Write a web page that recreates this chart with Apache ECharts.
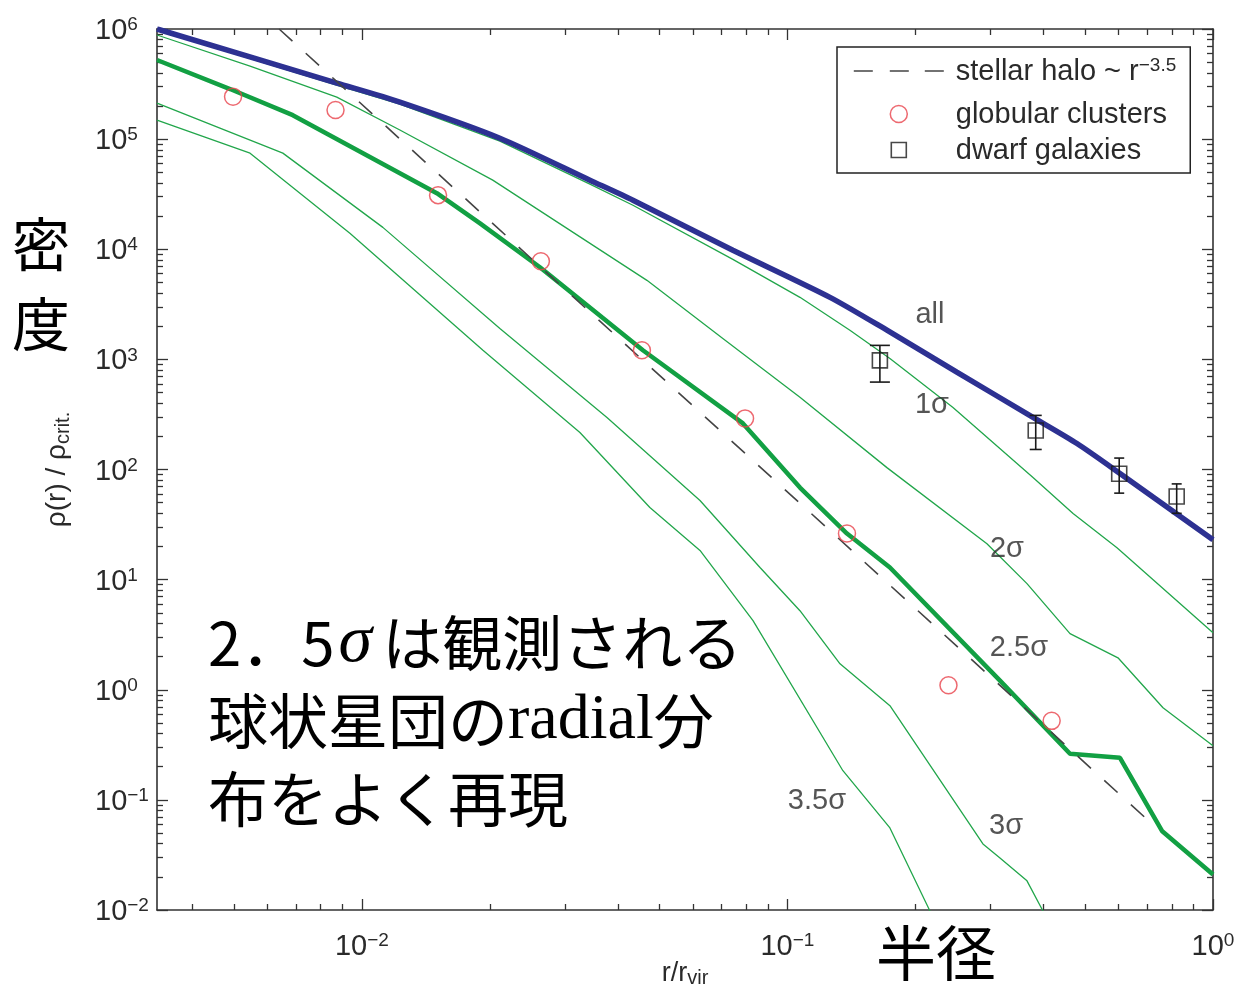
<!DOCTYPE html>
<html><head><meta charset="utf-8">
<script src="https://cdn.jsdelivr.net/npm/echarts@6/dist/echarts.min.js"></script>
<style>html,body{margin:0;padding:0;background:#fff}#c{width:1234px;height:993px}</style>
</head><body><div id="c"></div>
<script>
// ---------------- data (r / r_vir , rho / rho_crit) ----------------
const curveAll = [[0.0033,1.0e6],[0.00873,3.23e5],[0.01228,2.17e5],[0.0211,1.02e5],[0.03434,4.24e4],[0.04334,2.79e4],[0.07443,9.8e3],[0.1259,3.66e3],[0.1713,1.84e3],[0.25,767],[0.3776,297],[0.479,172],[0.6045,92],[1.0,23]];
const curve1s  = [[0.0033,9.8e5],[0.00873,3.1e5],[0.01228,2.08e5],[0.0211,9.6e4],[0.03434,3.9e4],[0.04334,2.51e4],[0.07443,8.1e3],[0.107,3.66e3],[0.1402,1.84e3],[0.1741,1.02e3],[0.2449,366],[0.3776,84.5],[0.469,39.8],[0.5948,19.5],[1.0,3.3]];
const curve2s  = [[0.0033,8.82e5],[0.00546,4.6e5],[0.00873,2.41e5],[0.01228,1.21e5],[0.0203,4.24e4],[0.04675,5.22e3],[0.0705,1.55e3],[0.107,452],[0.1713,104],[0.2943,21.2],[0.3655,9.2],[0.4613,3.23],[0.598,1.95],[0.763,0.686],[1.0,0.31]];
const curve25s = [[0.0033,5.23e5],[0.0049,2.85e5],[0.00688,1.65e5],[0.015,3.23e4],[0.01895,1.72e4],[0.0262,6.86e3],[0.04574,1.21e3],[0.0786,262],[0.107,68.6],[0.138,26.2],[0.1741,12.9],[0.3158,1.21],[0.4613,0.262],[0.6045,0.241],[0.7588,0.0522],[1.0,0.021]];
const curve3s  = [[0.0033,2.12e5],[0.00652,7.46e4],[0.0112,1.58e4],[0.0211,1.91e3],[0.03766,297],[0.0623,52.3],[0.0862,12.9],[0.107,5.22],[0.1329,1.72],[0.1741,0.716],[0.288,0.0398],[0.3158,0.0297],[0.3655,0.0184],[0.3985,0.0098],[0.414,0.0072]];
const curve35s = [[0.0033,1.49e5],[0.00546,7.46e4],[0.00937,1.40e4],[0.01925,1.21e3],[0.03253,217],[0.0475,45.2],[0.0623,18.4],[0.083,4.24],[0.135,0.184],[0.1741,0.0556],[0.2162,0.0098],[0.2221,0.0079]];
const stellarHalo = [[0.00639,1.0e6],[0.719,0.0605]];
const globularClusters = [[0.00498,2.43e5],[0.00867,1.84e5],[0.0151,3.10e4],[0.02634,7.78e3],[0.0455,1.21e3],[0.0795,291],[0.138,26.2],[0.239,1.10],[0.4177,0.522]];
// [r, rho, rhoLow, rhoHigh]
const dwarfGalaxies = [[0.1649,980,622,1340],[0.3832,226,152,310],[0.602,91.4,61,127],[0.8216,56.9,40,74]];
const curveLabelText = ['all','1σ','2σ','2.5σ','3σ','3.5σ'];
const curveLabelR    = [0.2162,0.2186,0.328,0.35,0.3264,0.1173];
const curveLabelRho  = [2510,382,19.1,2.41,0.058,0.098];
const majorX = [0.01,0.1,1];
const majorY = [1e-2,1e-1,1,1e1,1e2,1e3,1e4,1e5,1e6];
const decadesX = [0.001,0.01,0.1];
const decadesY = [1e-2,1e-1,1,1e1,1e2,1e3,1e4,1e5];
const X_MIN = 0.0033, X_MAX = 1, Y_MIN = 0.01, Y_MAX = 1e6;

// ---------------- styles ----------------
const SANS = '"Liberation Sans", Arial, Helvetica, sans-serif';
const JP = '"Noto Sans CJK JP", sans-serif';
const AX = '#333';
const TXT = '#2a2a2a';
const BLUE = '#2D3192';
const GREEN = '#12A043';
const GREEN_THIN = '#22A64B';
const RED = '#E8444C';
const DASH = '#444';
const errCapPx = [10, 6, 5, 5];

function minorTicks(decades, lo, hi) {
  const out = [];
  decades.forEach(d => { for (let m = 2; m <= 9; m++) { const v = +(d * m).toPrecision(6); if (v > lo && v < hi) out.push(v); } });
  return out;
}
const minorX = minorTicks(decadesX, X_MIN, X_MAX);
const minorY = minorTicks(decadesY, Y_MIN, Y_MAX);

function powLabel(v) {
  const e = Math.round(Math.log10(v));
  const s = e < 0 ? '\u2212' + (-e) : String(e);
  return '{b|10}{s|' + s + '}';
}
const powRich = {
  b: { fontFamily: SANS, fontSize: 29, lineHeight: 30, verticalAlign: 'bottom', color: TXT },
  s: { fontFamily: SANS, fontSize: 19, lineHeight: 20, verticalAlign: 'top', padding: [0, 0, 18, 0], color: TXT }
};

function logAxis(min, max, pos, ticks, len, showLine, label, extra) {
  return Object.assign({
    type: 'log', logBase: 10, min: min, max: max, position: pos,
    splitLine: { show: false },
    axisLine: { show: showLine, onZero: false, lineStyle: { color: AX, width: 1.6 } },
    axisTick: { show: true, inside: true, length: len, customValues: ticks, lineStyle: { color: AX, width: 1.3 } },
    axisLabel: label || { show: false },
    axisPointer: { show: false }
  }, extra || {});
}

const xAxes = [
  logAxis(X_MIN, X_MAX, 'bottom', majorX, 11, true,
    { show: true, customValues: majorX, formatter: powLabel, margin: 21, rich: powRich },
    { name: '{a|r/r}{c|vir}', nameLocation: 'middle', nameGap: 50, nameMoveOverlap: false,
      nameTextStyle: { rich: {
        a: { fontFamily: SANS, fontSize: 27, lineHeight: 28, verticalAlign: 'top', color: TXT },
        c: { fontFamily: SANS, fontSize: 20, lineHeight: 20, verticalAlign: 'bottom', padding: [16, 0, 0, 0], color: TXT } } } }),
  logAxis(X_MIN, X_MAX, 'bottom', minorX, 6, false),
  logAxis(X_MIN, X_MAX, 'top', majorX, 11, true),
  logAxis(X_MIN, X_MAX, 'top', minorX, 6, false)
];
const yAxes = [
  logAxis(Y_MIN, Y_MAX, 'left', majorY, 11, true,
    { show: true, customValues: majorY, formatter: powLabel, margin: 62, align: 'left', padding: [3, 0, 0, 0], rich: powRich },
    { name: '{a|\u03C1(r) / \u03C1}{c|crit.}', nameLocation: 'middle', nameRotate: 90, nameGap: 84, nameMoveOverlap: false,
      nameTextStyle: { rich: {
        a: { fontFamily: SANS, fontSize: 28, lineHeight: 30, verticalAlign: 'top', color: TXT },
        c: { fontFamily: SANS, fontSize: 20, lineHeight: 20, verticalAlign: 'bottom', padding: [15, 0, 0, 0], color: TXT } } } }),
  logAxis(Y_MIN, Y_MAX, 'left', minorY, 6, false),
  logAxis(Y_MIN, Y_MAX, 'right', majorY, 11, true),
  logAxis(Y_MIN, Y_MAX, 'right', minorY, 6, false)
];

function lineSeries(name, data, color, width, z, extra) {
  return Object.assign({
    type: 'line', name: name, data: data, xAxisIndex: 0, yAxisIndex: 0,
    symbol: 'none', showSymbol: false, smooth: false, silent: true, z: z, clip: true,
    itemStyle: { color: color },
    lineStyle: { color: color, width: width }, emphasis: { disabled: true }
  }, extra || {});
}

const option = {
  animation: false,
  backgroundColor: '#fff',
  grid: { left: 157, right: 21, top: 29, bottom: 83, containLabel: false, outerBoundsMode: 'none' },
  xAxis: xAxes,
  yAxis: yAxes,
  legend: {
    left: 837, top: 47, orient: 'vertical',
    padding: [9, 14, 8, 16], itemGap: 7, itemWidth: 90, itemHeight: 17,
    borderColor: '#222', borderWidth: 1.5, backgroundColor: '#fff',
    selectedMode: false, symbolKeepAspect: true,
    data: [
      { name: 'stellar halo', icon: 'path://M0,0M90,17M0,8.5H19M36,8.5H55M71,8.5H90',
        itemStyle: { color: 'transparent', borderColor: DASH, borderWidth: 1.6 } },
      { name: 'globular clusters', itemStyle: { color: 'transparent', borderColor: RED, borderWidth: 1.5 } },
      { name: 'dwarf galaxies', icon: 'path://M0,0M90,17M37.5,1H52.5V16H37.5Z',
        itemStyle: { color: 'transparent', borderColor: '#1a1a1a', borderWidth: 1.6 } }
    ],
    formatter: function (n) { return n === 'stellar halo' ? '{t|stellar halo ~ r}{s|\u22123.5}' : '{t|' + n + '}'; },
    textStyle: { fontFamily: SANS, fontSize: 29, color: TXT, padding: [0, 0, 0, 7],
      rich: {
        t: { fontFamily: SANS, fontSize: 29, lineHeight: 30, verticalAlign: 'bottom', color: TXT },
        s: { fontFamily: SANS, fontSize: 19, lineHeight: 20, verticalAlign: 'top', padding: [0, 0, 18, 0], color: TXT }
      } }
  },
  series: [
    lineSeries('3.5s', curve35s, GREEN_THIN, 1.3, 2),
    lineSeries('3s', curve3s, GREEN_THIN, 1.3, 2),
    lineSeries('2s', curve2s, GREEN_THIN, 1.3, 2),
    lineSeries('1s', curve1s, GREEN_THIN, 1.3, 2),
    lineSeries('2.5s', curve25s, GREEN, 4.5, 3),
    lineSeries('all', curveAll, BLUE, 5.5, 4, { smooth: 0.25 }),
    lineSeries('stellar halo', stellarHalo, DASH, 1.6, 5, { lineStyle: { color: DASH, width: 1.6, type: [18, 18] } }),
    { type: 'scatter', name: 'globular clusters', data: globularClusters, symbol: 'circle', symbolSize: 17, z: 6, silent: true,
      itemStyle: { color: 'transparent', borderColor: RED, borderWidth: 1.5 } },
    { type: 'custom', name: 'dwarf errors', data: dwarfGalaxies, z: 6, silent: true,
      encode: { x: 0, y: 1 },
      renderItem: function (params, api) {
        const x = api.value(0);
        const top = api.coord([x, api.value(3)]);
        const bot = api.coord([x, api.value(2)]);
        const cap = errCapPx[params.dataIndex];
        const st = { stroke: '#1a1a1a', lineWidth: 1.6 };
        return { type: 'group', children: [
          { type: 'line', shape: { x1: top[0], y1: top[1], x2: bot[0], y2: bot[1] }, style: st },
          { type: 'line', shape: { x1: top[0] - cap, y1: top[1], x2: top[0] + cap, y2: top[1] }, style: st },
          { type: 'line', shape: { x1: bot[0] - cap, y1: bot[1], x2: bot[0] + cap, y2: bot[1] }, style: st }
        ] };
      } },
    { type: 'scatter', name: 'dwarf galaxies', data: dwarfGalaxies.map(d => [d[0], d[1]]), symbol: 'rect', symbolSize: 15, symbolKeepAspect: true, z: 7, silent: true,
      itemStyle: { color: 'transparent', borderColor: '#1a1a1a', borderWidth: 1.6 } },
    { type: 'scatter', name: 'curve labels', silent: true, z: 8, symbolSize: 1,
      itemStyle: { color: 'transparent' },
      data: curveLabelText.map((t, i) => ({ name: t, value: [curveLabelR[i], curveLabelRho[i]] })),
      label: { show: true, position: 'inside', formatter: '{b}', fontFamily: SANS, fontSize: 29, color: TXT } }
  ],
  graphic: [
    { type: 'text', left: 12, top: 204, silent: true,
      style: { text: '密\n度', fontFamily: JP, fontSize: 58, lineHeight: 80, fill: '#000' } },
    { type: 'text', left: 876, top: 922, silent: true,
      style: { text: '半径', fontFamily: JP, fontSize: 60, lineHeight: 62, fill: '#000' } },
    { type: 'text', left: 208, top: 609, silent: true,
      style: {
        text: '{j|2．5}{g|σ}{j|は観測される}\n{j|球状星団の}{r|radial}{j|分}\n{j|布をよく再現}',
        rich: {
          j: { fontFamily: JP, fontSize: 60, lineHeight: 78, color: '#000' },
          g: { fontFamily: '"Liberation Serif", "DejaVu Serif", serif', fontStyle: 'italic', fontSize: 68, lineHeight: 78, padding: [0, 10, 0, 4], color: '#000' },
          r: { fontFamily: '"Liberation Serif", "DejaVu Serif", serif', fontSize: 64, lineHeight: 78, color: '#000' }
        }
      } }
  ]
};

const chart = echarts.init(document.getElementById('c'), null, { renderer: 'canvas' });
chart.setOption(option);
</script></body></html>
